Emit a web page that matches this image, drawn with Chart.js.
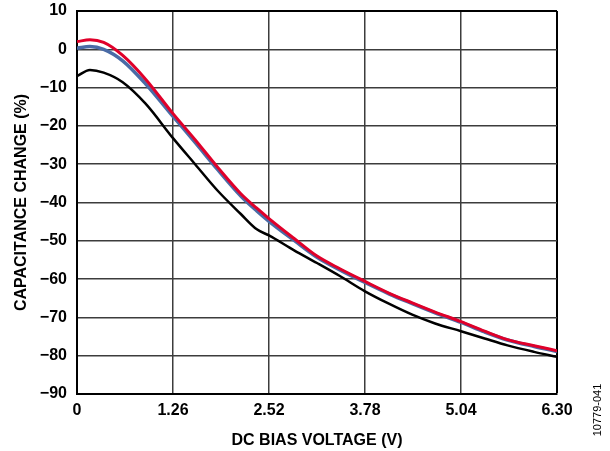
<!doctype html>
<html>
  <head>
    <meta charset="utf-8" />
    <title>Capacitance change vs DC bias</title>
    <script src="https://cdn.jsdelivr.net/npm/chart.js@4.4.1/dist/chart.umd.min.js"></script>
    <style>
      body { margin: 0; background: #fff; }
    </style>
  </head>
  <body>
    <canvas id="chart" width="610" height="451"></canvas>
    <script>
      // DC bias voltage (V), shared by all three curves
      const volts = [0, 0.17, 0.35, 0.6, 0.9, 1.26, 1.55, 1.85, 2.15, 2.36, 2.52, 2.85,
        3.15, 3.45, 3.78, 4.1, 4.4, 4.7, 5.04, 5.35, 5.65, 6.0, 6.3];

      // capacitance change (%)
      const redCurve = [2.0, 2.5, 1.8, -1.6, -7.8, -16.8, -23.6, -30.9, -37.7, -41.5, -44.2, -49.4,
        -54.0, -57.3, -60.6, -63.7, -66.2, -68.6, -71.1, -73.6, -75.8, -77.4, -78.7];
      const blueCurve = [0.3, 0.7, 0.0, -3.0, -9.0, -17.5, -24.3, -31.5, -38.3, -42.2, -44.9, -49.9,
        -54.3, -57.6, -60.9, -63.9, -66.4, -68.8, -71.3, -73.8, -75.9, -77.6, -78.9];
      const blackCurve = [-7.0, -5.4, -6.1, -8.6, -14.2, -23.2, -30.0, -37.0, -43.0, -47.0, -48.6, -52.5,
        -55.8, -59.2, -63.2, -66.5, -69.3, -71.6, -73.6, -75.5, -77.3, -79.0, -80.3];

      const xTicks = [0, 1.26, 2.52, 3.78, 5.04, 6.3];
      const xTickLabels = ["0", "1.26", "2.52", "3.78", "5.04", "6.30"];
      const yTicks = [10, 0, -10, -20, -30, -40, -50, -60, -70, -80, -90];

      const font = { family: "'Liberation Sans', Arial, sans-serif", size: 16, weight: "bold" };

      function pts(ys) {
        return volts.map((v, i) => ({ x: v, y: ys[i] }));
      }

      function line(ys, color, width) {
        return {
          data: pts(ys),
          borderColor: color,
          borderWidth: width,
          pointRadius: 0,
          cubicInterpolationMode: "monotone",
          fill: false,
        };
      }

      const sideLabel = {
        id: "sideLabel",
        afterDraw(chart) {
          const c = chart.ctx;
          c.save();
          c.translate(598, 410);
          c.rotate(-Math.PI / 2);
          c.font = "11px 'Liberation Sans', Arial, sans-serif";
          c.fillStyle = "#000";
          c.textAlign = "center";
          c.textBaseline = "middle";
          c.fillText("10779-041", 0, 0);
          c.restore();
        },
      };

      const canvas = document.getElementById("chart");
      new Chart(canvas, {
        type: "line",
        data: {
          datasets: [
            line(redCurve, "#e0002a", 3),
            line(blueCurve, "#4a6ba6", 3.5),
            line(blackCurve, "#000000", 2.5),
          ],
        },
        options: {
          responsive: false,
          animation: false,
          layout: { padding: { top: 11, right: 53, bottom: 0, left: 0 } },
          plugins: { legend: { display: false }, tooltip: { enabled: false } },
          scales: {
            x: {
              type: "linear",
              min: 0,
              max: 6.3,
              afterBuildTicks: (s) => { s.ticks = xTicks.map((v) => ({ value: v })); },
              afterFit: (s) => { s.height = 57; },
              ticks: {
                color: "#000",
                font: font,
                padding: 7,
                maxRotation: 0,
                callback: (v, i) => xTickLabels[i],
              },
              grid: {
                drawTicks: false,
                color: (ctx) => (ctx.tick && ctx.tick.value === 6.3 ? "#000" : "#3c3c3c"),
                lineWidth: (ctx) => (ctx.tick && ctx.tick.value === 6.3 ? 2 : 1.5),
              },
              border: { color: "#000", width: 2 },
              title: {
                display: true,
                text: "DC BIAS VOLTAGE (V)",
                color: "#000",
                font: font,
                padding: { top: 0, bottom: 1 },
              },
            },
            y: {
              min: -90,
              max: 10,
              afterBuildTicks: (s) => { s.ticks = yTicks.map((v) => ({ value: v })); },
              afterFit: (s) => {
                s.width = 77;
                s.paddingTop = 0;
                s.paddingBottom = 0;
              },
              ticks: {
                color: "#000",
                font: font,
                padding: 10,
                callback: (v) => String(v).replace("-", "\u2212"),
              },
              grid: {
                drawTicks: false,
                color: (ctx) => (ctx.tick && ctx.tick.value === 10 ? "#000" : "#3c3c3c"),
                lineWidth: (ctx) => (ctx.tick && ctx.tick.value === 10 ? 2 : 1.5),
              },
              border: { color: "#000", width: 2 },
              title: {
                display: true,
                text: "CAPACITANCE CHANGE (%)",
                color: "#000",
                font: font,
                padding: { top: 12, bottom: 0 },
              },
            },
          },
        },
        plugins: [sideLabel],
      });
    </script>
  </body>
</html>
